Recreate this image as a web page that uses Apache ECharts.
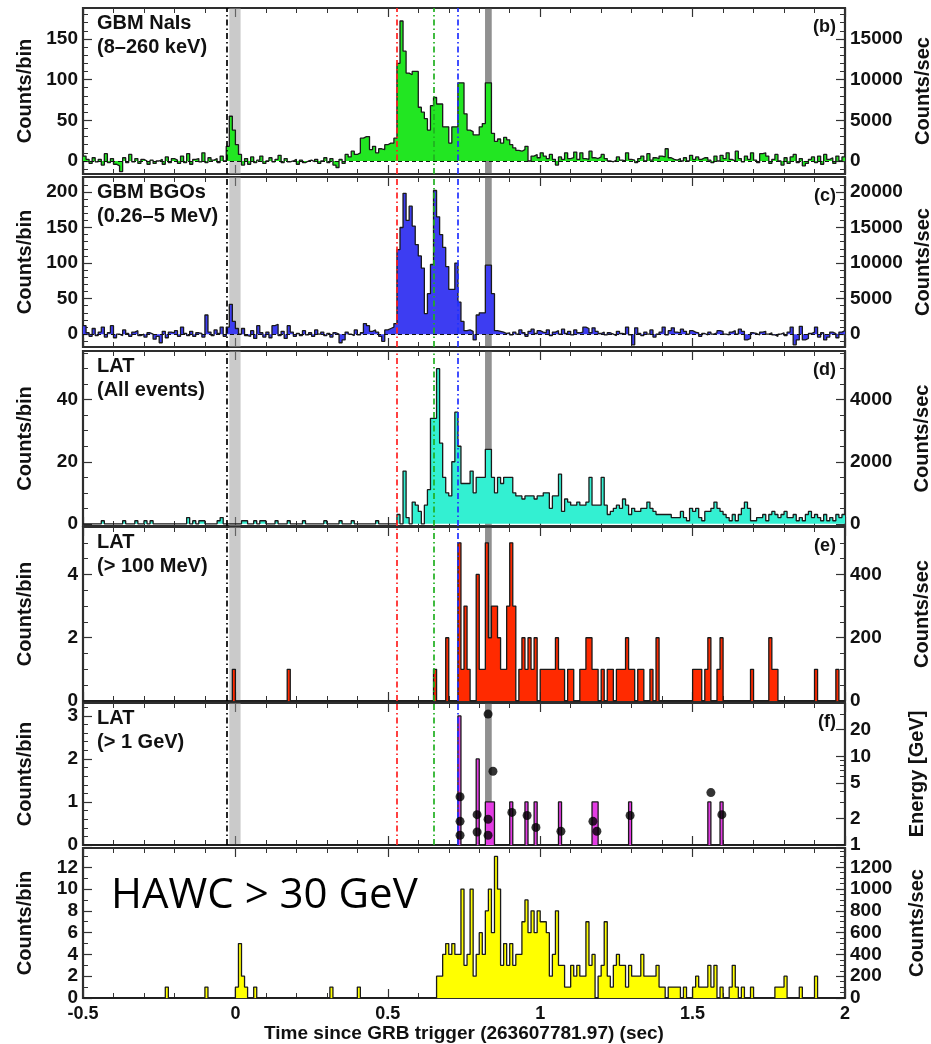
<!DOCTYPE html>
<html><head><meta charset="utf-8">
<script src="https://cdn.jsdelivr.net/npm/echarts@6/dist/echarts.min.js"></script>
<style>html,body{margin:0;padding:0;background:#fff}#c{width:931px;height:1044px}</style>
</head><body><div id="c"></div>
<script>
// ---- time binning (bin start = -0.5 + 0.01*k, 250 bins) ----
const T0 = -0.5, BIN = 0.01;

// (b) GBM NaIs 8-260 keV, counts/bin
const nai = [
 6,2,-3,4,-1,2,-5,9,-2,3,  -4,-6,-13,4,-2,8,-1,3,-3,2,  0,-4,1,-3,0,2,-4,5,-2,3,  1,-3,6,-2,9,-4,2,3,-1,10,
 -2,4,1,3,-2,6,0,18,55,38,  20,8,-5,3,-4,5,-2,1,6,-3,  0,4,-1,2,7,-2,3,-1,0,2,  -4,1,-2,0,1,-1,2,-3,0,4,
 -2,3,-5,-8,2,-3,8,5,12,8,  10,28,30,30,14,18,10,15,14,20,  22,22,28,120,172,135,108,106,110,110,
 66,60,52,38,68,78,70,70,42,42,  22,42,42,96,96,58,38,36,32,32,  42,46,96,96,34,24,27,22,29,26,
 20,16,13,12,14,18,0,6,8,4,  10,6,3,8,2,-5,5,2,10,3,  4,11,2,10,3,2,12,4,3,5,  8,3,0,-1,1,5,1,0,10,2,
 1,-2,3,6,0,9,1,4,3,6,  5,15,4,2,1,3,0,4,0,7,  2,5,2,4,4,1,-2,6,0,7,  3,10,2,0,12,3,-1,6,2,10,
 1,-2,9,10,6,-3,2,8,0,-5,  4,-3,5,8,-2,3,-6,-3,2,5,  -2,6,-4,8,2,4,-3,6,0,5
];
// (c) GBM BGOs 0.26-5 MeV, counts/bin
const bgo = [
 12,2,-3,8,-2,3,10,-4,2,12,  -5,0,-2,6,1,-3,3,5,-2,0,  -4,2,0,-7,-3,-12,4,-5,3,2,  5,-3,10,1,-2,4,-3,2,1,-4,
 27,3,-2,6,1,10,-3,10,42,18,  8,0,8,-2,-3,5,-6,12,2,-4,  3,-5,12,14,-2,4,-6,12,3,-3,  1,-2,5,-1,2,-3,6,0,3,-2,
 1,-4,2,0,-12,-8,3,0,-2,6,  -1,2,15,12,4,6,3,-3,-10,6,  8,10,15,119,150,198,160,180,152,126,
 110,93,29,57,98,202,165,140,122,95,  63,63,100,45,18,5,6,4,-8,27,  30,30,97,97,57,5,4,3,1,2,
 -1,3,0,6,2,-3,4,7,1,5,  3,2,6,-2,3,5,0,7,1,4,  -1,6,2,3,10,8,2,9,4,1,  3,-1,2,0,-2,4,1,0,10,-1,
 -15,9,1,-2,3,0,6,-4,0,3,  10,-1,5,9,3,2,7,4,0,5,  3,2,-3,1,-1,3,0,2,5,4,  0,-1,3,5,0,7,4,-8,-6,2,
 1,-1,3,4,0,2,-1,-3,0,2,  -2,3,10,-15,-8,11,-8,-6,1,3,  10,-4,2,-8,-4,3,1,-5,3,5
];
// (d) LAT all events, counts/bin
const latAll = [
 0,0,0,0,0,0,1,0,0,0,  0,0,0,1,0,0,0,1,0,0,  1,0,1,0,0,0,0,0,0,0,  0,0,0,0,2,0,1,0,1,1,
 0,0,0,0,1,2,0,0,0,0,  0,0,1,1,0,0,1,0,1,1,  0,0,0,1,0,0,0,1,0,0,  0,0,1,0,0,0,0,0,0,1,
 0,0,0,0,1,0,0,0,1,0,  0,0,0,0,0,0,1,0,0,0,  0,0,0,3,0,17,2,0,7,6,
 4,0,6,11,34,34,50,26,15,10,  9,20,36,25,13,13,13,17,10,15,  15,15,24,24,15,10,15,13,15,15,
 15,10,9,9,8,9,9,9,8,9,  9,10,10,5,9,9,16,4,8,7,  6,6,7,6,6,7,15,6,6,6,  15,6,3,4,5,6,5,8,6,3,
 5,4,4,5,5,7,5,4,3,3,  3,3,3,2,2,2,4,2,1,5,  4,5,2,1,4,4,5,7,5,4,  3,2,1,3,1,3,5,7,5,1,
 1,2,2,3,1,3,4,3,2,3,  4,2,2,3,1,2,1,3,4,2,  3,2,1,3,1,2,1,3,2,3
];
// (e) LAT > 100 MeV, counts/bin
const lat100 = [
 0,0,0,0,0,0,0,0,0,0,  0,0,0,0,0,0,0,0,0,0,  0,0,0,0,0,0,0,0,0,0,  0,0,0,0,0,0,0,0,0,0,
 0,0,0,0,0,0,0,0,0,1,  0,0,0,0,0,0,0,0,0,0,  0,0,0,0,0,0,0,1,0,0,  0,0,0,0,0,0,0,0,0,0,
 0,0,0,0,0,0,0,0,0,0,  0,0,0,0,0,0,0,0,0,0,  0,0,0,0,0,0,0,0,0,0,
 0,0,0,0,0,1,0,0,0,2,  0,0,0,5,1,3,1,0,0,4,  1,1,5,2,3,3,2,1,1,3,
 5,3,0,1,2,1,2,1,2,0,  1,1,1,1,1,2,1,1,0,1,  1,0,0,1,1,2,2,1,1,0,  1,0,1,1,0,1,1,1,2,1,
 1,0,1,1,0,0,1,0,2,0,  0,0,0,0,0,0,0,0,0,0,  1,1,1,0,1,2,0,0,1,2,  0,0,0,0,0,0,0,0,0,1,
 0,0,0,0,0,2,1,1,0,0,  0,0,0,0,0,0,0,0,0,0,  1,0,0,0,0,0,0,1,0,0
];
// (f) LAT > 1 GeV, counts/bin
const lat1g = [
 0,0,0,0,0,0,0,0,0,0,  0,0,0,0,0,0,0,0,0,0,  0,0,0,0,0,0,0,0,0,0,  0,0,0,0,0,0,0,0,0,0,
 0,0,0,0,0,0,0,0,0,0,  0,0,0,0,0,0,0,0,0,0,  0,0,0,0,0,0,0,0,0,0,  0,0,0,0,0,0,0,0,0,0,
 0,0,0,0,0,0,0,0,0,0,  0,0,0,0,0,0,0,0,0,0,  0,0,0,0,0,0,0,0,0,0,
 0,0,0,0,0,0,0,0,0,0,  0,0,0,3,0,0,0,0,0,2,  0,0,1,1,1,0,0,0,0,0,
 1,0,0,0,0,1,0,0,1,0,  0,0,0,0,0,0,1,0,0,0,  0,0,0,0,0,0,0,1,1,0,  0,0,0,0,0,0,0,0,0,1,
 0,0,0,0,0,0,0,0,0,0,  0,0,0,0,0,0,0,0,0,0,  0,0,0,0,0,1,0,0,0,1,  0,0,0,0,0,0,0,0,0,0,
 0,0,0,0,0,0,0,0,0,0,  0,0,0,0,0,0,0,0,0,0,  0,0,0,0,0,0,0,0,0,0
];
// (f) individual > 1 GeV photons: arrival time (s) and energy (GeV)
const photonTime   = [0.737,0.737,0.737,0.793,0.793,0.829,0.829,0.829,0.845,0.907,0.957,0.986,1.068,1.173,1.186,1.295,1.560,1.596];
const photonEnergy = [3.5,1.85,1.29,2.2,1.4,30,1.95,1.29,6.8,2.33,2.15,1.58,1.43,1.85,1.43,2.15,3.9,2.2];
// (g) HAWC > 30 GeV, counts/bin
const hawc = [
 0,0,0,0,0,0,0,0,0,0,  0,0,0,0,0,0,0,0,0,0,  0,0,0,0,0,0,0,1,0,0,  0,0,0,0,0,0,0,0,0,0,
 1,0,0,0,0,0,0,0,0,0,  1,5,2,1,0,0,1,0,0,0,  0,0,0,0,0,0,0,0,0,0,  0,0,0,0,0,0,0,0,0,0,
 0,1,0,0,0,0,0,0,0,0,  1,0,0,0,0,0,0,0,0,0,  0,0,0,0,0,0,0,0,0,0,
 0,0,0,0,0,0,2,2,4,5,  4,5,4,4,10,3,4,10,2,4,  6,4,8,10,6,13,10,3,5,3,
 5,3,4,4,7,9,6,8,6,8,  7,7,6,2,4,8,3,3,1,1,  3,2,3,2,2,7,3,4,0,2,  3,7,2,1,3,4,3,3,1,3,
 2,2,2,4,2,2,2,2,3,1,  1,0,1,1,1,1,0,1,0,0,  1,2,1,1,1,3,1,3,0,1,  0,0,1,3,1,0,1,0,0,1,
 0,0,0,0,0,0,0,1,1,1,  2,0,0,0,0,1,0,0,0,0,  2,0,0,0,0,0,0,0,0,0
];

// reference markers (s)
const vLines = [{t:-0.025,c:'#000000'},{t:0.529,c:'#ff2020'},{t:0.649,c:'#20b020'},{t:0.731,c:'#2030ff'}];
const bands = [{a:-0.020,b:0.017,c:'rgba(150,150,150,0.5)'},{a:0.819,b:0.841,c:'rgba(70,70,70,0.6)'}];

// ---------------- build ----------------
const FONT = '"Liberation Sans", Arial, Helvetica, sans-serif';
const TXT = '#111';
function range(a,b,s){const r=[];for(let v=a;v<=b+1e-9;v+=s)r.push(+v.toFixed(6));return r;}
function steps(vals){
  const d = vals.map((v,i)=>[+(T0+i*BIN).toFixed(4), v]);
  d.push([+(T0+vals.length*BIN).toFixed(4), vals[vals.length-1]]);
  return d;
}
const plain = v => String(v);
const NOLINE = {show:false, onZero:false};

const panels = [
 {data:nai, fill:'#22e622', top:8, h:166, ymin:-16, ymax:188, lMaj:range(0,150,50), lMin:range(-10,180,10),
  rMaj:range(0,15000,5000), rMin:range(-1000,18000,1000), rName:'Counts/sec', title:['GBM NaIs','(8–260 keV)'], tag:'(b)', zero:true, marks:true},
 {data:bgo, fill:'#3d3df2', top:177, h:170, ymin:-18, ymax:221, lMaj:range(0,200,50), lMin:range(-10,220,10),
  rMaj:range(0,20000,5000), rMin:range(-1000,22000,1000), rName:'Counts/sec', title:['GBM BGOs','(0.26–5 MeV)'], tag:'(c)', zero:true, marks:true},
 {data:latAll, fill:'#33f0d2', top:351, h:175, ymin:-0.7, ymax:55.7, lMaj:[0,20,40], lMin:range(0,55,5),
  rMaj:[0,2000,4000], rMin:range(0,5500,500), rName:'Counts/sec', title:['LAT','(All events)'], tag:'(d)', marks:true},
 {data:lat100, fill:'#ff2a00', top:527, h:174, ymin:0, ymax:5.5, lMaj:[0,2,4], lMin:range(0,5.5,0.5),
  rMaj:[0,200,400], rMin:range(0,550,50), rName:'Counts/sec', title:['LAT','(> 100 MeV)'], tag:'(e)', marks:true},
 {data:lat1g, fill:'#e33ce3', top:703, h:142, ymin:0, ymax:3.3, lMaj:[0,1,2,3], lMin:range(0,3.2,0.2),
  rLog:true, rMaj:[1,2,5,10,20], rMin:[3,4,6,7,8,9,30], rName:'Energy [GeV]', title:['LAT','(> 1 GeV)'], tag:'(f)', marks:true},
 {data:hawc, fill:'#ffff00', top:848, h:150, ymin:0, ymax:13.77, lMaj:range(0,12,2), lMin:range(0,13,1),
  rMaj:range(0,1200,200), rMin:range(0,1350,50), rName:'Counts/sec', big:'HAWC > 30 GeV'}
];

const grid=[], xAxis=[], yAxis=[], series=[], graphic=[];
const lblStyle = {fontFamily:FONT, fontWeight:'bold', fontSize:19, color:TXT};
const nameStyle = {fontFamily:FONT, fontWeight:'bold', fontSize:20, color:TXT};

panels.forEach((p,i)=>{
  const last = i===panels.length-1;
  grid.push({left:83, right:86, top:p.top, height:p.h, show:true, borderColor:'#2e2e2e', borderWidth:2.2,
    backgroundColor:'rgba(0,0,0,0)', containLabel:false, outerBoundsMode:'none'});
  const xi = xAxis.length;
  ['bottom','top'].forEach(pos=>{
    xAxis.push({type:'value', gridIndex:i, position:pos, min:-0.5, max:2, interval:0.5,
      axisLine:NOLINE, splitLine:{show:false},
      axisTick:{show:true, inside:true, length:9, lineStyle:{color:'#333', width:1.2}},
      minorTick:{show:true, splitNumber:5, length:5, lineStyle:{color:'#333', width:1}},
      axisLabel:{show: last && pos==='bottom', margin:7, ...lblStyle, fontSize:18, formatter:plain},
      name: (last && pos==='bottom') ? 'Time since GRB trigger (263607781.97) (sec)' : '',
      nameLocation:'middle', nameGap:25, nameTextStyle:{...nameStyle, fontSize:19}
    });
  });
  const yl = yAxis.length;
  yAxis.push({type:'value', gridIndex:i, position:'left', min:p.ymin, max:p.ymax,
    axisLine:NOLINE, splitLine:{show:false},
    axisTick:{show:true, inside:true, length:9, customValues:p.lMaj, lineStyle:{color:'#333', width:1.2}},
    axisLabel:{show:true, customValues:p.lMaj, margin:5, ...lblStyle, formatter:plain},
    name:'Counts/bin', nameLocation:'middle', nameRotate:90, nameGap:48, nameTextStyle:nameStyle});
  yAxis.push({type:'value', gridIndex:i, position:'left', min:p.ymin, max:p.ymax,
    axisLine:NOLINE, splitLine:{show:false},
    axisTick:{show:true, inside:true, length:5, customValues:p.lMin, lineStyle:{color:'#333', width:1}},
    axisLabel:{show:false}});
  const yr = yAxis.length;
  if (p.rLog) {
    yAxis.push({type:'log', logBase:10, gridIndex:i, position:'right', min:1, max:40,
      axisLine:NOLINE, splitLine:{show:false},
      axisTick:{show:true, inside:true, length:9, customValues:p.rMaj, lineStyle:{color:'#333', width:1.2}},
      axisLabel:{show:true, customValues:p.rMaj, margin:5, ...lblStyle, formatter:plain},
      name:p.rName, nameLocation:'middle', nameRotate:90, nameGap:62, nameTextStyle:nameStyle});
    yAxis.push({type:'log', logBase:10, gridIndex:i, position:'right', min:1, max:40,
      axisLine:NOLINE, splitLine:{show:false},
      axisTick:{show:true, inside:true, length:5, customValues:p.rMin, lineStyle:{color:'#333', width:1}},
      axisLabel:{show:false}});
  } else {
    yAxis.push({type:'value', gridIndex:i, position:'right', min:p.ymin*100, max:p.ymax*100,
      axisLine:NOLINE, splitLine:{show:false},
      axisTick:{show:true, inside:true, length:9, customValues:p.rMaj, lineStyle:{color:'#333', width:1.2}},
      axisLabel:{show:true, customValues:p.rMaj, margin:5, ...lblStyle, formatter:plain},
      name:p.rName, nameLocation:'middle', nameRotate:90, nameGap: last?62:67, nameTextStyle:nameStyle});
    yAxis.push({type:'value', gridIndex:i, position:'right', min:p.ymin*100, max:p.ymax*100,
      axisLine:NOLINE, splitLine:{show:false},
      axisTick:{show:true, inside:true, length:5, customValues:p.rMin, lineStyle:{color:'#333', width:1}},
      axisLabel:{show:false}});
  }
  series.push({type:'line', xAxisIndex:xi, yAxisIndex:yl, data:steps(p.data), step:'end', symbol:'none',
    lineStyle:{color:'#1a1a1a', width:1.3}, areaStyle:{color:p.fill, opacity:1, origin:'auto'}, z:3, silent:true});
  if (p.marks) {
    const ml = vLines.map(v=>({xAxis:v.t, lineStyle:{color:v.c, type:[6,3,1.5,3], width:1.7}}));
    if (p.zero) ml.push({yAxis:0, lineStyle:{color:'#111', type:[4,3], width:1}});
    series.push({type:'line', xAxisIndex:xi, yAxisIndex:yl, data:[], z:5, silent:true,
      markLine:{silent:true, symbol:['none','none'], label:{show:false}, data:ml},
      markArea:{silent:true, data:bands.map(b=>[{xAxis:b.a, itemStyle:{color:b.c}},{xAxis:b.b}])}});
  }
  if (p.rLog) {
    series.push({type:'scatter', xAxisIndex:xi, yAxisIndex:yr, data:photonTime.map((t,j)=>[t, photonEnergy[j]]),
      symbolSize:9, itemStyle:{color:'#000'}, z:6, silent:true});
  }
  if (p.title) {
    graphic.push({type:'text', x:97, y:p.top+15, style:{text:p.title[0], font:'bold 20px '+FONT, fill:TXT, textVerticalAlign:'middle', verticalAlign:'middle'}});
    graphic.push({type:'text', x:97, y:p.top+39, style:{text:p.title[1], font:'bold 20px '+FONT, fill:TXT, textVerticalAlign:'middle', verticalAlign:'middle'}});
    graphic.push({type:'text', x:836, y:p.top+19, style:{text:p.tag, font:'bold 18px '+FONT, fill:TXT, textAlign:'right', align:'right', textVerticalAlign:'middle', verticalAlign:'middle'}});
  }
  if (p.big) {
    graphic.push({type:'text', x:111, y:p.top+48, style:{text:p.big, font:'42px "Open Sans", sans-serif', fill:'#000', textVerticalAlign:'middle', verticalAlign:'middle'}});
  }
});

const chart = echarts.init(document.getElementById('c'), null, {renderer:'canvas'});
chart.setOption({animation:false, backgroundColor:'#fff', grid, xAxis, yAxis, series, graphic});
</script>
</body></html>
